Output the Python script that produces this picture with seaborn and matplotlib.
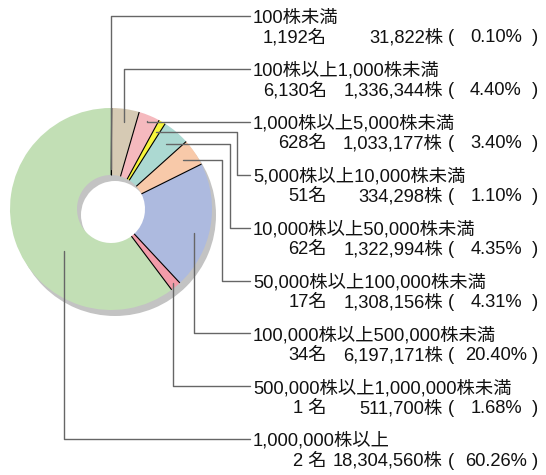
"""
Shareholder distribution by holding size
donut chart with leader-line labels
"""

import numpy as np
import matplotlib
matplotlib.use("Agg")
import matplotlib.pyplot as plt
import seaborn as sns

# -----------------------------------
# Data
# -----------------------------------

ranges = [
    "100株未満",
    "100株以上1,000株未満",
    "1,000株以上5,000株未満",
    "5,000株以上10,000株未満",
    "10,000株以上50,000株未満",
    "50,000株以上100,000株未満",
    "100,000株以上500,000株未満",
    "500,000株以上1,000,000株未満",
    "1,000,000株以上",
]

holders = ["1,192名", "6,130名", "628名", "51名", "62名", "17名", "34名", "1 名", "2 名"]

shares = [31822, 1336344, 1033177, 334298, 1322994, 1308156, 6197171, 511700, 18304560]

ratios = [0.10, 4.40, 3.40, 1.10, 4.35, 4.31, 20.40, 1.68, 60.26]

colors = [
    "#2f8f8c", "#d6cab4", "#f5b9be", "#f7f53c", "#acd9d2",
    "#f8c9a9", "#adbadf", "#f29ca9", "#c2dfb5",
]

# -----------------------------------
# Layout (pixels)
# -----------------------------------

W, H = 546, 475
cx, cy = 111, 209
r_out, r_in = 101, 34
shadow_dx, shadow_dy = 4, 6

label_x = 253
label_y = 18 + 52.9 * np.arange(len(ranges))
line_gap = 20

anchor_r = [40, 88, 95, 89, 85, 87, 86, 97, 63]
anchor_pos = [0.5, 0.5, 0.5, 0.5, 0.5, 0.5, 0.58, 0.5, 0.39]
elbow_x = [None, None, None, 237, 230, 222, None, None, None]

x_name, x_share, x_open, x_pct, x_close = 327, 443, 448, 496, 532

sns.set_theme(style="white")
plt.rcParams["font.family"] = ["Liberation Sans", "Noto Sans CJK JP", "DejaVu Sans"]
fs = 13.2

fig = plt.figure(figsize=(W / 100, H / 100), dpi=100)
ax = fig.add_axes([0, 0, 1, 1])

# shadow
ax.pie(
    [1],
    colors=["#c3c3c3"],
    radius=r_out,
    center=(cx + shadow_dx, cy + shadow_dy),
    wedgeprops=dict(width=r_out - r_in, edgecolor="none"),
)

# donut (y axis is flipped, so counterclock draws clockwise on screen)
ax.pie(
    shares,
    colors=colors,
    radius=r_out,
    center=(cx, cy),
    startangle=-90,
    counterclock=True,
    wedgeprops=dict(width=r_out - r_in, edgecolor="none"),
)

frac = np.array(shares) / np.sum(shares)
bounds = np.concatenate([[0], np.cumsum(frac)])

# black radial separators
for f in bounds[:-1]:
    a = np.deg2rad(360 * f)
    ax.plot(
        [cx + r_in * np.sin(a), cx + r_out * np.sin(a)],
        [cy - r_in * np.cos(a), cy - r_out * np.cos(a)],
        color="black",
        linewidth=0.8,
        solid_capstyle="butt",
    )

ax.set_xlim(0, W)
ax.set_ylim(H, 0)
ax.set_axis_off()

# -----------------------------------
# Leader lines and labels
# -----------------------------------

for i in range(len(ranges)):

    f = bounds[i] + anchor_pos[i] * frac[i]
    a = np.deg2rad(360 * f)
    px = cx + anchor_r[i] * np.sin(a)
    py = cy - anchor_r[i] * np.cos(a)
    ex = px if elbow_x[i] is None else elbow_x[i]
    ly = label_y[i] - 2

    ax.plot(
        [px, ex, ex, label_x - 3],
        [py, py, ly, ly],
        color="#666666",
        linewidth=1.0,
    )

    y1 = label_y[i]
    y2 = label_y[i] + line_gap

    ax.text(label_x, y1, ranges[i], fontsize=fs, ha="left", va="center", color="#111111")
    ax.text(x_name, y2, holders[i], fontsize=fs, ha="right", va="center", color="#111111")
    ax.text(x_share, y2, f"{shares[i]:,}株", fontsize=fs, ha="right", va="center", color="#111111")
    ax.text(x_open, y2, "(", fontsize=fs, ha="left", va="center", color="#111111")
    ax.text(x_pct, y2, f"{ratios[i]:.2f}%", fontsize=fs, ha="center", va="center", color="#111111")
    ax.text(x_close, y2, ")", fontsize=fs, ha="left", va="center", color="#111111")

fig.savefig("out.png", dpi=100)
